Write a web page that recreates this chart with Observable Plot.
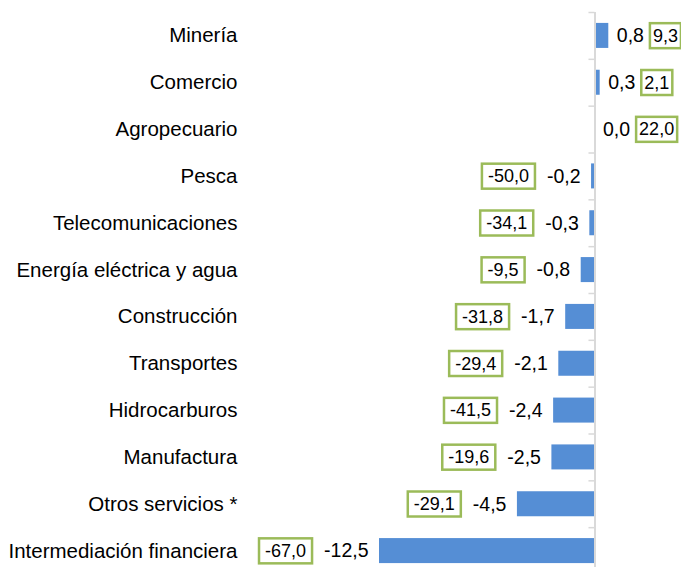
<!DOCTYPE html>
<html>
<head>
<meta charset="utf-8">
<script src="https://cdn.jsdelivr.net/npm/d3@7"></script>
<script src="https://cdn.jsdelivr.net/npm/@observablehq/plot@0.6"></script>
<style>
  html, body { margin: 0; padding: 0; background: #fff; overflow: hidden; }
  #chart { width: 681px; height: 567px; overflow: hidden; }
</style>
</head>
<body>
<div id="chart"></div>
<script>
// Data
const categories = [
  "Minería", "Comercio", "Agropecuario", "Pesca", "Telecomunicaciones",
  "Energía eléctrica y agua", "Construcción", "Transportes", "Hidrocarburos",
  "Manufactura", "Otros servicios *", "Intermediación financiera"
];
const values = [0.8, 0.3, 0.0, -0.2, -0.3, -0.8, -1.7, -2.1, -2.4, -2.5, -4.5, -12.5];
const boxedValues = [9.3, 2.1, 22.0, -50.0, -34.1, -9.5, -31.8, -29.4, -41.5, -19.6, -29.1, -67.0];

const rows = categories.map((c, i) => ({cat: c, value: values[i], boxed: boxedValues[i]}));
const fmt = v => v.toFixed(1).replace(".", ",");

const FONT = "'Liberation Sans', Arial, sans-serif";
const valueFont = 19.5;
const boxFont = 18;
const ctx = document.createElement("canvas").getContext("2d");
const measure = (t, size) => { ctx.font = `${size}px ${FONT}`; return ctx.measureText(t).width; };

const W = 681, H = 574, mT = 12, mL = 245;
const step = (H - mT) / categories.length;

const marks = [
  Plot.barX(rows, {x: "value", y: "cat", fill: "#558ED5"}),
  Plot.ruleX([0], {stroke: "#d9d9d9", strokeWidth: 2}),
  Plot.ruleY(rows, {y: "cat", x1: -0.35, x2: 0, dy: -step / 2, stroke: "#d9d9d9", strokeWidth: 1.5}),
  Plot.text(rows.filter(d => d.value < 0), {
    x: "value", y: "cat", text: d => fmt(d.value), textAnchor: "end", dx: -11,
    fontSize: valueFont, fill: "#000"
  }),
  Plot.text(rows.filter(d => d.value >= 0), {
    x: "value", y: "cat", text: d => fmt(d.value), textAnchor: "start", dx: 8,
    fontSize: valueFont, fill: "#000"
  })
];

for (const d of rows) {
  const w = measure(fmt(d.value), valueFont);
  if (d.value < 0) {
    marks.push(Plot.text([d], {
      x: "value", y: "cat", text: r => fmt(r.boxed), textAnchor: "end",
      dx: -(11 + w + 12 + 6), fontSize: boxFont, fill: "#000", className: "boxlab-neg"
    }));
  } else {
    marks.push(Plot.text([d], {
      x: "value", y: "cat", text: r => fmt(r.boxed), textAnchor: "start",
      dx: 8 + w + 6 + 3, fontSize: boxFont, fill: "#000", className: "boxlab-pos"
    }));
  }
}

const zeroX = 594.5, pxPerUnit = 17.24;
const chart = Plot.plot({
  width: W,
  height: H,
  marginTop: mT,
  marginBottom: 0,
  marginLeft: mL,
  marginRight: 0,
  style: {fontFamily: FONT, fontSize: "20.5px", color: "#000", background: "#fff", overflow: "visible"},
  x: {domain: [(mL - zeroX) / pxPerUnit, (W - zeroX) / pxPerUnit], axis: null},
  y: {domain: categories, paddingInner: 0.466, paddingOuter: 0.233, round: false, tickSize: 0, tickPadding: 8, label: null},
  marks
});
document.getElementById("chart").appendChild(chart);

// Draw green boxes around boxed labels
const svgEl = chart.tagName.toLowerCase() === "svg" ? chart : chart.querySelector("svg");
for (const cls of ["boxlab-neg", "boxlab-pos"]) {
  const pad = cls === "boxlab-neg" ? 6 : 3;
  svgEl.querySelectorAll(`g.${cls}, text.${cls}`).forEach(node => {
    const texts = node.tagName.toLowerCase() === "text" ? [node] : Array.from(node.querySelectorAll("text"));
    texts.forEach(t => {
      const bb = t.getBBox();
      const cy = bb.y + bb.height / 2;
      const rect = document.createElementNS("http://www.w3.org/2000/svg", "rect");
      rect.setAttribute("x", bb.x - pad);
      rect.setAttribute("y", cy - 12.5);
      rect.setAttribute("width", bb.width + 2 * pad);
      rect.setAttribute("height", 25);
      rect.setAttribute("fill", "#fff");
      rect.setAttribute("stroke", "#9BBB59");
      rect.setAttribute("stroke-width", 2.5);
      const tr = t.getAttribute("transform");
      if (tr) rect.setAttribute("transform", tr);
      t.parentNode.insertBefore(rect, t);
    });
  });
}
</script>
</body>
</html>
